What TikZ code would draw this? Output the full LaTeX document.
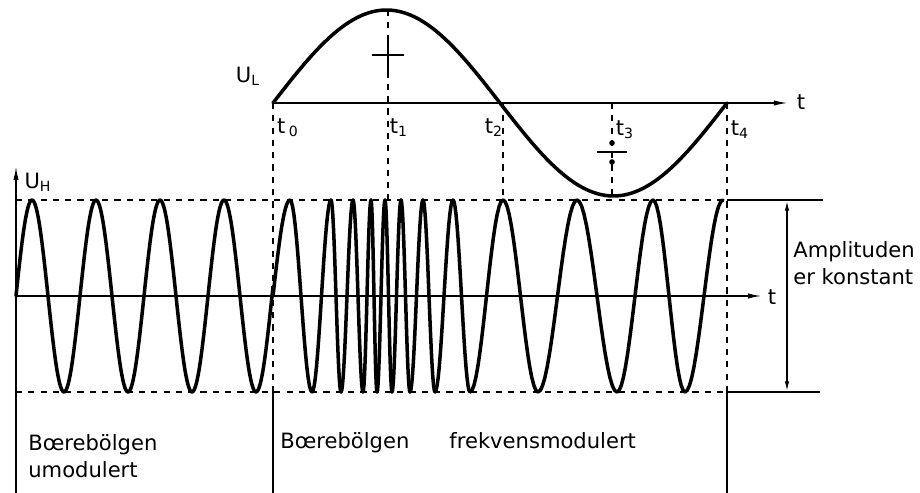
\documentclass[tikz,border=0pt]{standalone}
\usepackage{fontspec}
\setmainfont{DejaVu Sans}
\usetikzlibrary{arrows.meta}
\begin{document}
\begin{tikzpicture}[x=0.02cm, y=-0.02cm, line join=round,
  wave/.style={line width=2pt, line cap=round},
  axis/.style={line width=0.9pt},
  guide/.style={line width=0.6pt, dash pattern=on 3.5pt off 3.5pt},
  tip/.style={-{Latex[length=8pt,width=3pt]}},
  lbl/.style={font=\fontsize{12}{15.5}\selectfont, inner sep=0pt}]
  \useasboundingbox (0,0) rectangle (920,493);
  % times on the modulating signal U_L
  \coordinate (t0) at (273,103); \coordinate (t1) at (388,103); \coordinate (t2) at (503,103);
  \coordinate (t3) at (612,103); \coordinate (t4) at (727,103); \coordinate (tend) at (788,103);
  \coordinate (top) at (388,10); \coordinate (bot) at (612,196);
  % carrier axis and amplitude levels
  \coordinate (o) at (16,296); \coordinate (oend) at (762,296); \coordinate (uend) at (16,166);
  \coordinate (hi0) at (16,200); \coordinate (lo0) at (16,392);
  \coordinate (hi4) at (727,200); \coordinate (lo4) at (727,392);
  \coordinate (hir) at (823,200); \coordinate (lor) at (820,392);
  \coordinate (a1) at (787,200); \coordinate (a2) at (787,392);
  \coordinate (f0) at (273,493); \coordinate (f4) at (727,493); \coordinate (fo) at (16,493);

  \draw[guide] (t0) -- (t0 |- lo0); \draw[guide] (top) -- (t1 |- hi0);
  \draw[guide] (t2) -- (t2 |- hi0); \draw[guide] (t3) -- (bot);
  \draw[guide] (t4) -- (lo4);
  \draw[guide] (hi0) -- (hi4); \draw[guide] (lo0) -- (lo4);
  \draw[axis] (t0 |- lo0) -- (f0); \draw[axis] (lo4) -- (f4);
  \draw[axis] (hi4) -- (hir); \draw[axis] (lo4) -- (lor);
  \draw[axis,{Latex[length=6pt,width=2.5pt]}-{Latex[length=6pt,width=2.5pt]}] (a1) -- (a2);

  \draw[axis,tip] (t0) -- (tend);
  \draw[axis,tip] (o) -- (oend);
  \draw[axis,tip] (fo) -- (uend);

  % modulating signal
  \draw[wave] plot[domain=273:727,samples=120] (\x,{103-93*sin(0.79295*(\x-273))});
  \draw[axis] (372,55) -- (404,55) (388,38) -- (388,72);
  \draw[axis] (597,152) -- (627,152);
  \fill (612,143) circle (1.6pt) (612,162) circle (1.6pt);

  % carrier, unmodulated then frequency modulated
  \draw[wave] plot[domain=16:273,samples=220] (\x,{296-96*sin(5.625*(\x-16))});
  \draw[wave] plot[domain=273:290,samples=12] (\x,{296-96*sin(5.2941*(\x-273))});
  \foreach \a/\b/\s in {290/312/1, 312/331/-1, 331/341/1, 341/353/-1, 353/363/1, 363/371/-1,
      371/377/1, 377/385/-1, 385/392/1, 392/401/-1, 401/410/1, 410/423/-1, 423/435/1,
      435/453/-1, 453/470/1, 470/503/-1, 503/538/1, 538/577/-1, 577/617/1, 617/653/-1,
      653/685/1, 685/723/-1}
    \draw[wave] plot[domain=\a:\b,samples=18] (\x,{296-\s*96*cos(180*(\x-\a)/(\b-\a))});

  \node[lbl] (UL) at (248,76) {U\textsubscript{L}};
  \node[lbl] (UH) at (38,182) {U\textsubscript{H}};
  \node[lbl] (lt0) at (288,128) {t\,\textsubscript{0}};
  \node[lbl] (lt1) at (399,128) {t\textsubscript{1}};
  \node[lbl] (lt2) at (494,128) {t\textsubscript{2}};
  \node[lbl] (lt3) at (625,130) {t\textsubscript{3}};
  \node[lbl] (lt4) at (740,130) {t\textsubscript{4}};
  \node[lbl] (tt) at (801,102) {t};
  \node[lbl] (tb) at (772,297) {t};
  \node[lbl,anchor=west,align=left] (amp) at (793,263) {Amplituden\\er konstant};
  \node[lbl,anchor=west,align=left] (umod) at (28,456) {Bœrebölgen\\umodulert};
  \node[lbl,anchor=west] (fmod) at (280,443) {Bœrebölgen\hspace{0.8cm}frekvensmodulert};
\end{tikzpicture}
\end{document}
